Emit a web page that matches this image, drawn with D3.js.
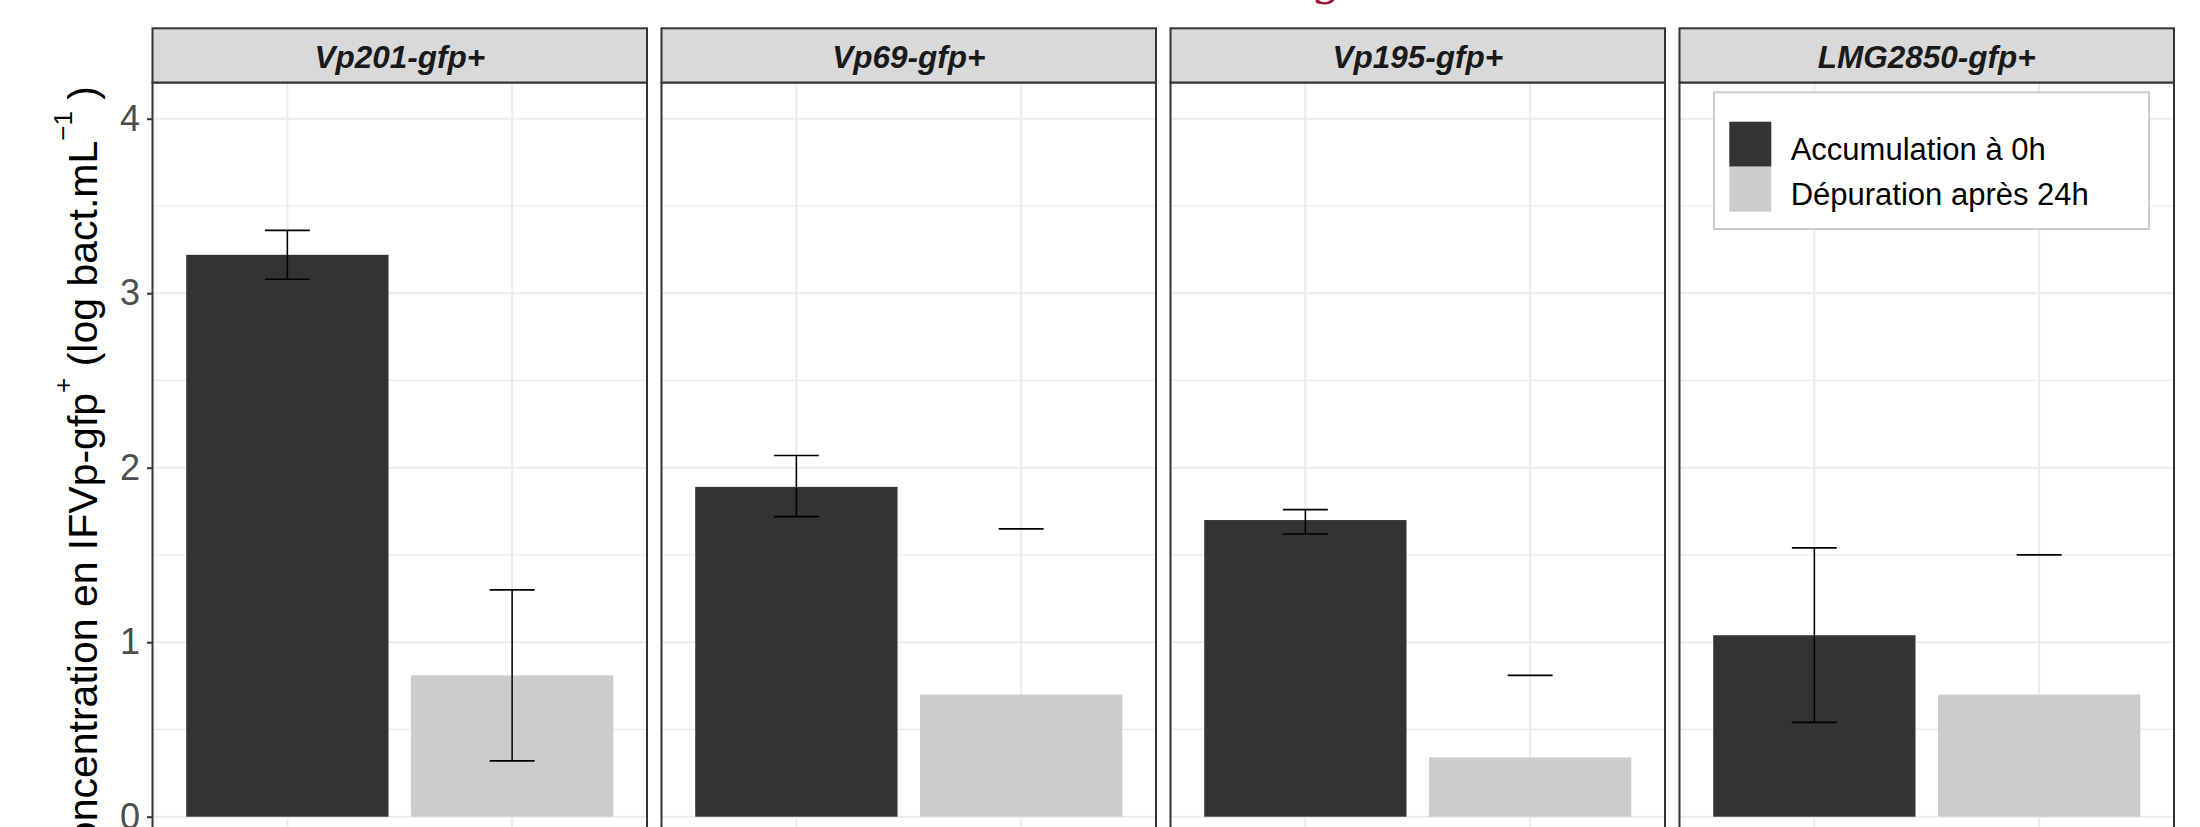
<!DOCTYPE html>
<html>
<head>
<meta charset="utf-8">
<script src="https://cdn.jsdelivr.net/npm/d3@7"></script>
<style>
  body { margin: 0; background: #fff; }
  svg { display: block; font-family: "Liberation Sans", Arial, sans-serif; }
</style>
</head>
<body>
<svg id="chart" width="2200" height="827"></svg>
<script>
// Strains (facets) and sampling phases (bars within each facet)
const strains = ["Vp201-gfp+", "Vp69-gfp+", "Vp195-gfp+", "LMG2850-gfp+"];
const phases = ["Accumulation à 0h", "Dépuration après 24h"];

// Mean concentration (log bact.mL-1) and error-bar limits per strain
const accumMean = [3.22, 1.89, 1.70, 1.04];
const accumLow  = [3.08, 1.72, 1.62, 0.54];
const accumHigh = [3.36, 2.07, 1.76, 1.54];
const deprMean  = [0.81, 0.70, 0.34, 0.70];
const deprLow   = [0.32, null, null, null];
const deprHigh  = [1.30, 1.65, 0.81, 1.50];

const yTicks = [0, 1, 2, 3, 4];
const yMinor = [0.5, 1.5, 2.5, 3.5];
const phaseColors = ["#333333", "#CCCCCC"];

// ---- layout ----
const W = 2200, H = 827;
const panelW = 494.5, panelGap = 14.5, panelX0 = 152.5;
const stripTop = 28.3, stripBottom = 82.5, panelBottom = 900;

const svg = d3.select("#chart");

const facet = d3.scaleBand()
  .domain(strains)
  .range([panelX0, panelX0 + 4 * panelW + 3 * panelGap])
  .paddingInner(panelGap / (panelW + panelGap));

const x = d3.scaleBand()
  .domain(phases)
  .range([0, panelW])
  .paddingInner(0.1)
  .paddingOuter(0.15);

const y = d3.scaleLinear().domain([0, 4]).range([816.7, 118.7]);

const color = d3.scaleOrdinal().domain(phases).range(phaseColors);

// tidy rows per strain
const rows = strains.map((s, i) => ({
  strain: s,
  bars: [
    { phase: phases[0], mean: accumMean[i], low: accumLow[i], high: accumHigh[i] },
    { phase: phases[1], mean: deprMean[i], low: deprLow[i], high: deprHigh[i] }
  ]
}));

const defs = svg.append("defs");

rows.forEach((row, i) => {
  const g = svg.append("g").attr("transform", `translate(${facet(row.strain)},0)`);
  const clipId = "clip" + i;
  defs.append("clipPath").attr("id", clipId)
    .append("rect").attr("x", 0).attr("y", stripBottom)
    .attr("width", panelW).attr("height", panelBottom - stripBottom);

  const body = g.append("g").attr("clip-path", `url(#${clipId})`);
  body.append("rect").attr("x", 0).attr("y", stripBottom)
    .attr("width", panelW).attr("height", panelBottom - stripBottom).attr("fill", "#fff");

  // grid
  body.selectAll("line.minor").data(yMinor).join("line")
    .attr("x1", 0).attr("x2", panelW)
    .attr("y1", d => y(d)).attr("y2", d => y(d))
    .attr("stroke", "#EBEBEB").attr("stroke-width", 1.3);
  body.selectAll("line.major").data(yTicks).join("line")
    .attr("x1", 0).attr("x2", panelW)
    .attr("y1", d => y(d)).attr("y2", d => y(d))
    .attr("stroke", "#EBEBEB").attr("stroke-width", 2);
  body.selectAll("line.vmajor").data(phases).join("line")
    .attr("x1", d => x(d) + x.bandwidth() / 2).attr("x2", d => x(d) + x.bandwidth() / 2)
    .attr("y1", stripBottom).attr("y2", panelBottom)
    .attr("stroke", "#EBEBEB").attr("stroke-width", 2);

  // bars
  body.selectAll("rect.bar").data(row.bars).join("rect")
    .attr("x", d => x(d.phase))
    .attr("width", x.bandwidth())
    .attr("y", d => y(d.mean))
    .attr("height", d => y(0) - y(d.mean))
    .attr("fill", d => color(d.phase));

  // error bars
  const capW = x.step() * 0.2;
  row.bars.forEach(d => {
    const cx = x(d.phase) + x.bandwidth() / 2;
    const eg = body.append("g").attr("stroke", "#000").attr("stroke-width", 1.7).attr("fill", "none");
    eg.append("line").attr("x1", cx - capW / 2).attr("x2", cx + capW / 2)
      .attr("y1", y(d.high)).attr("y2", y(d.high));
    if (d.low !== null) {
      eg.append("line").attr("x1", cx).attr("x2", cx)
        .attr("y1", y(d.high)).attr("y2", y(d.low)).attr("stroke-width", 1.5);
      eg.append("line").attr("x1", cx - capW / 2).attr("x2", cx + capW / 2)
        .attr("y1", y(d.low)).attr("y2", y(d.low));
    }
  });

  // panel border
  g.append("rect").attr("x", 0).attr("y", stripBottom)
    .attr("width", panelW).attr("height", panelBottom - stripBottom)
    .attr("fill", "none").attr("stroke", "#333333").attr("stroke-width", 2);

  // strip
  g.append("rect").attr("x", 0).attr("y", stripTop)
    .attr("width", panelW).attr("height", stripBottom - stripTop)
    .attr("fill", "#D9D9D9").attr("stroke", "#333333").attr("stroke-width", 2);
  g.append("text")
    .attr("x", panelW / 2).attr("y", 68.3)
    .attr("text-anchor", "middle")
    .attr("font-size", 31.5).attr("font-weight", "bold").attr("font-style", "italic")
    .attr("fill", "#1A1A1A")
    .text(row.strain);
});

// y axis on the first panel
const yAxis = svg.append("g")
  .attr("transform", `translate(${facet(strains[0])},0)`)
  .call(d3.axisLeft(y).tickValues(yTicks).tickSize(5.5).tickPadding(7).tickFormat(d3.format("d")));
yAxis.select(".domain").remove();
yAxis.selectAll(".tick line").attr("stroke", "#333333").attr("stroke-width", 2);
yAxis.selectAll(".tick text")
  .attr("font-family", "'Liberation Sans', Arial, sans-serif")
  .attr("font-size", 36).attr("fill", "#4D4D4D");

// y axis title with superscripts
const title = svg.append("text")
  .attr("transform", "translate(96.5,86) rotate(-90)")
  .attr("text-anchor", "end")
  .attr("font-size", 41).attr("fill", "#000");
title.append("tspan").text("Concentration en IFVp-gfp");
title.append("tspan").attr("font-size", 26).attr("dy", -25).text("+");
title.append("tspan").attr("dy", 25).text(" (log bact.mL");
title.append("tspan").attr("font-size", 26).attr("dy", -25).text("\u22121");
title.append("tspan").attr("dy", 25).text(" )");

// legend inside the last panel
const lg = svg.append("g");
lg.append("rect").attr("x", 1714).attr("y", 92.3).attr("width", 435).attr("height", 136.7)
  .attr("fill", "#fff").attr("stroke", "#CCCCCC").attr("stroke-width", 2);
const keyH = 45;
phases.forEach((p, i) => {
  lg.append("rect").attr("x", 1729.3).attr("y", 121.7 + i * keyH)
    .attr("width", 42).attr("height", keyH).attr("fill", color(p));
  lg.append("text").attr("x", 1790.7).attr("y", 160 + i * keyH)
    .attr("font-size", 31).attr("fill", "#000").text(p);
});

// descender of the heading letter above the figure
svg.append("text").attr("x", 1311).attr("y", -6)
  .attr("font-family", "'DejaVu Serif', serif").attr("font-size", 48)
  .attr("fill", "#9E1239").text("g");
</script>
</body>
</html>
